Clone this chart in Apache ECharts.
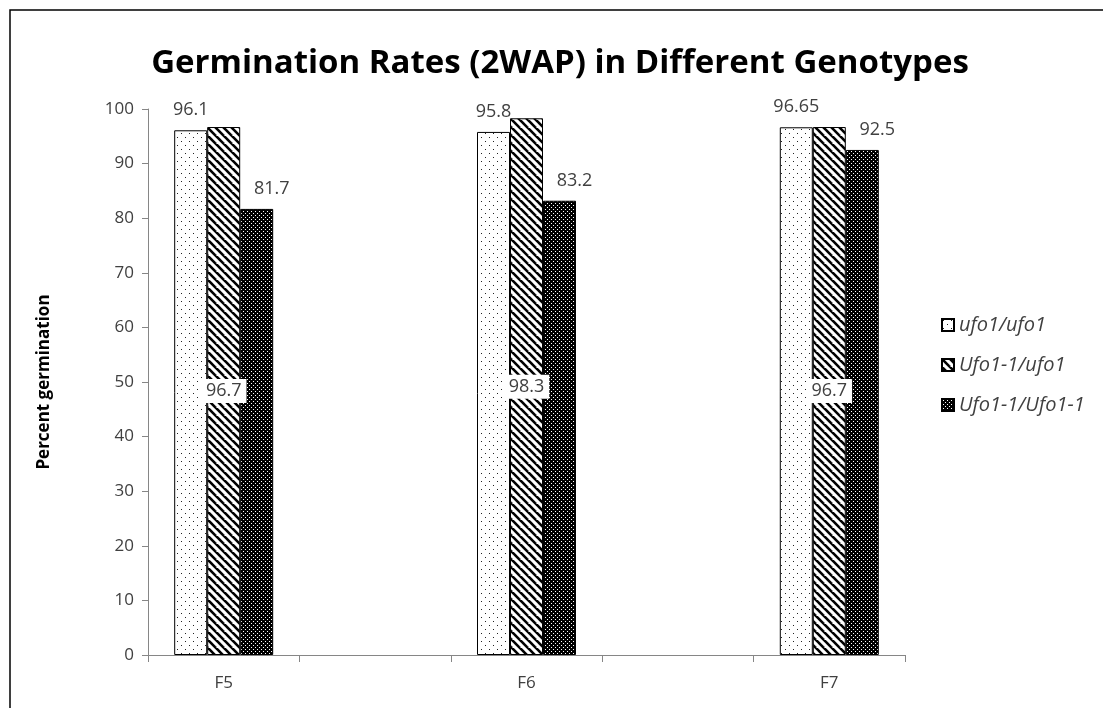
<!DOCTYPE html>
<html>
<head>
<meta charset="utf-8">
<script src="https://cdn.jsdelivr.net/npm/echarts@6/dist/echarts.min.js"></script>
<style>
  html, body { margin: 0; padding: 0; background: #fff; }
  #chart { width: 1103px; height: 708px; }
</style>
</head>
<body>
<div id="chart"></div>
<script>
// Generations and germination (%) per genotype, two weeks after planting
const generations = ['F5', 'F6', 'F7'];
const genotypes = ['ufo1/ufo1', 'Ufo1-1/ufo1', 'Ufo1-1/Ufo1-1'];
const ufoHomo = [96.1, 95.8, 96.65];
const ufoHet = [96.7, 98.3, 96.7];
const ufo11Homo = [81.7, 83.2, 92.5];
const yTicks = { min: 0, max: 100, step: 10 };

// The category axis keeps an empty slot between generations
function spread(values) {
  const out = [];
  values.forEach((v, i) => {
    if (i > 0) out.push(null);
    out.push(v);
  });
  return out;
}
const categories = [];
generations.forEach((g, i) => {
  if (i > 0) categories.push('');
  categories.push(g);
});

// Fill patterns drawn on small tiles
function tile(size, draw) {
  const c = document.createElement('canvas');
  c.width = size; c.height = size;
  const ctx = c.getContext('2d');
  draw(ctx, size);
  return { image: c, repeat: 'repeat' };
}
const dotted = tile(8, (ctx, s) => {
  ctx.fillStyle = '#fff'; ctx.fillRect(0, 0, s, s);
  ctx.fillStyle = '#222';
  ctx.fillRect(1, 1, 1, 1);
  ctx.fillRect(5, 5, 1, 1);
});
const striped = tile(8, (ctx, s) => {
  ctx.fillStyle = '#fff'; ctx.fillRect(0, 0, s, s);
  ctx.strokeStyle = '#000'; ctx.lineWidth = 2.6;
  for (let k = -s; k <= 2 * s; k += s) {
    ctx.beginPath();
    ctx.moveTo(k - s, -s);
    ctx.lineTo(k + s, s);
    ctx.stroke();
  }
});
const dense = tile(4, (ctx, s) => {
  ctx.fillStyle = '#000'; ctx.fillRect(0, 0, s, s);
  ctx.fillStyle = '#fff';
  ctx.fillRect(1, 1, 1, 1);
  ctx.fillRect(3, 3, 1, 1);
});

const labelColor = '#404040';
const axisGray = '#868686';
const font = 'Open Sans, sans-serif';

const chart = echarts.init(document.getElementById('chart'), null, { renderer: 'canvas' });

function barSeries(name, values, fill, label) {
  return {
    name: name,
    type: 'bar',
    data: spread(values),
    barWidth: 33,
    barGap: '0%',
    itemStyle: { color: fill, borderColor: '#000', borderWidth: 1 },
    label: Object.assign({
      show: true,
      color: labelColor,
      fontSize: 18,
      fontFamily: font
    }, label)
  };
}

chart.setOption({
  animation: false,
  backgroundColor: '#fff',
  title: {
    text: 'Germination Rates (2WAP) in Different Genotypes',
    left: 555,
    textAlign: 'center',
    top: 42,
    textStyle: { fontSize: 33, fontWeight: 'bold', color: '#000', fontFamily: font }
  },
  graphic: [{
    type: 'rect',
    shape: { x: 10, y: 10, width: 1200, height: 800 },
    style: { fill: 'none', stroke: '#000', lineWidth: 1.5 },
    silent: true
  }],
  legend: {
    orient: 'vertical',
    left: 936,
    top: 310,
    itemWidth: 12,
    itemHeight: 12,
    itemGap: 20,
    icon: 'rect',
    textStyle: { fontSize: 20, fontStyle: 'italic', color: labelColor, fontFamily: font },
    data: genotypes
  },
  grid: { left: 148, top: 109, right: 198, bottom: 53 },
  xAxis: {
    type: 'category',
    data: categories,
    boundaryGap: true,
    axisLine: { lineStyle: { color: axisGray, width: 1 } },
    axisTick: { show: true, alignWithLabel: false, length: 7, lineStyle: { color: axisGray } },
    axisLabel: { color: labelColor, fontSize: 17, margin: 20, interval: 0, fontFamily: font }
  },
  yAxis: {
    type: 'value',
    min: yTicks.min,
    max: yTicks.max,
    interval: yTicks.step,
    name: 'Percent germination',
    nameLocation: 'middle',
    nameRotate: 90,
    nameGap: 95,
    nameTextStyle: { fontSize: 17, fontWeight: 'bold', color: '#000', fontFamily: font },
    axisLine: { show: true, lineStyle: { color: axisGray, width: 1 } },
    axisTick: { show: true, length: 6, lineStyle: { color: axisGray } },
    splitLine: { show: false },
    axisLabel: { color: labelColor, fontSize: 17, margin: 14, fontFamily: font }
  },
  series: [
    barSeries(genotypes[0], ufoHomo, dotted, { position: 'top', distance: 11 }),
    barSeries(genotypes[1], ufoHet, striped, {
      position: 'inside', backgroundColor: '#fff', padding: [4, 5, 2, 5]
    }),
    barSeries(genotypes[2], ufo11Homo, dense, { position: 'top', distance: 11, offset: [15, 0] })
  ]
});
</script>
</body>
</html>
